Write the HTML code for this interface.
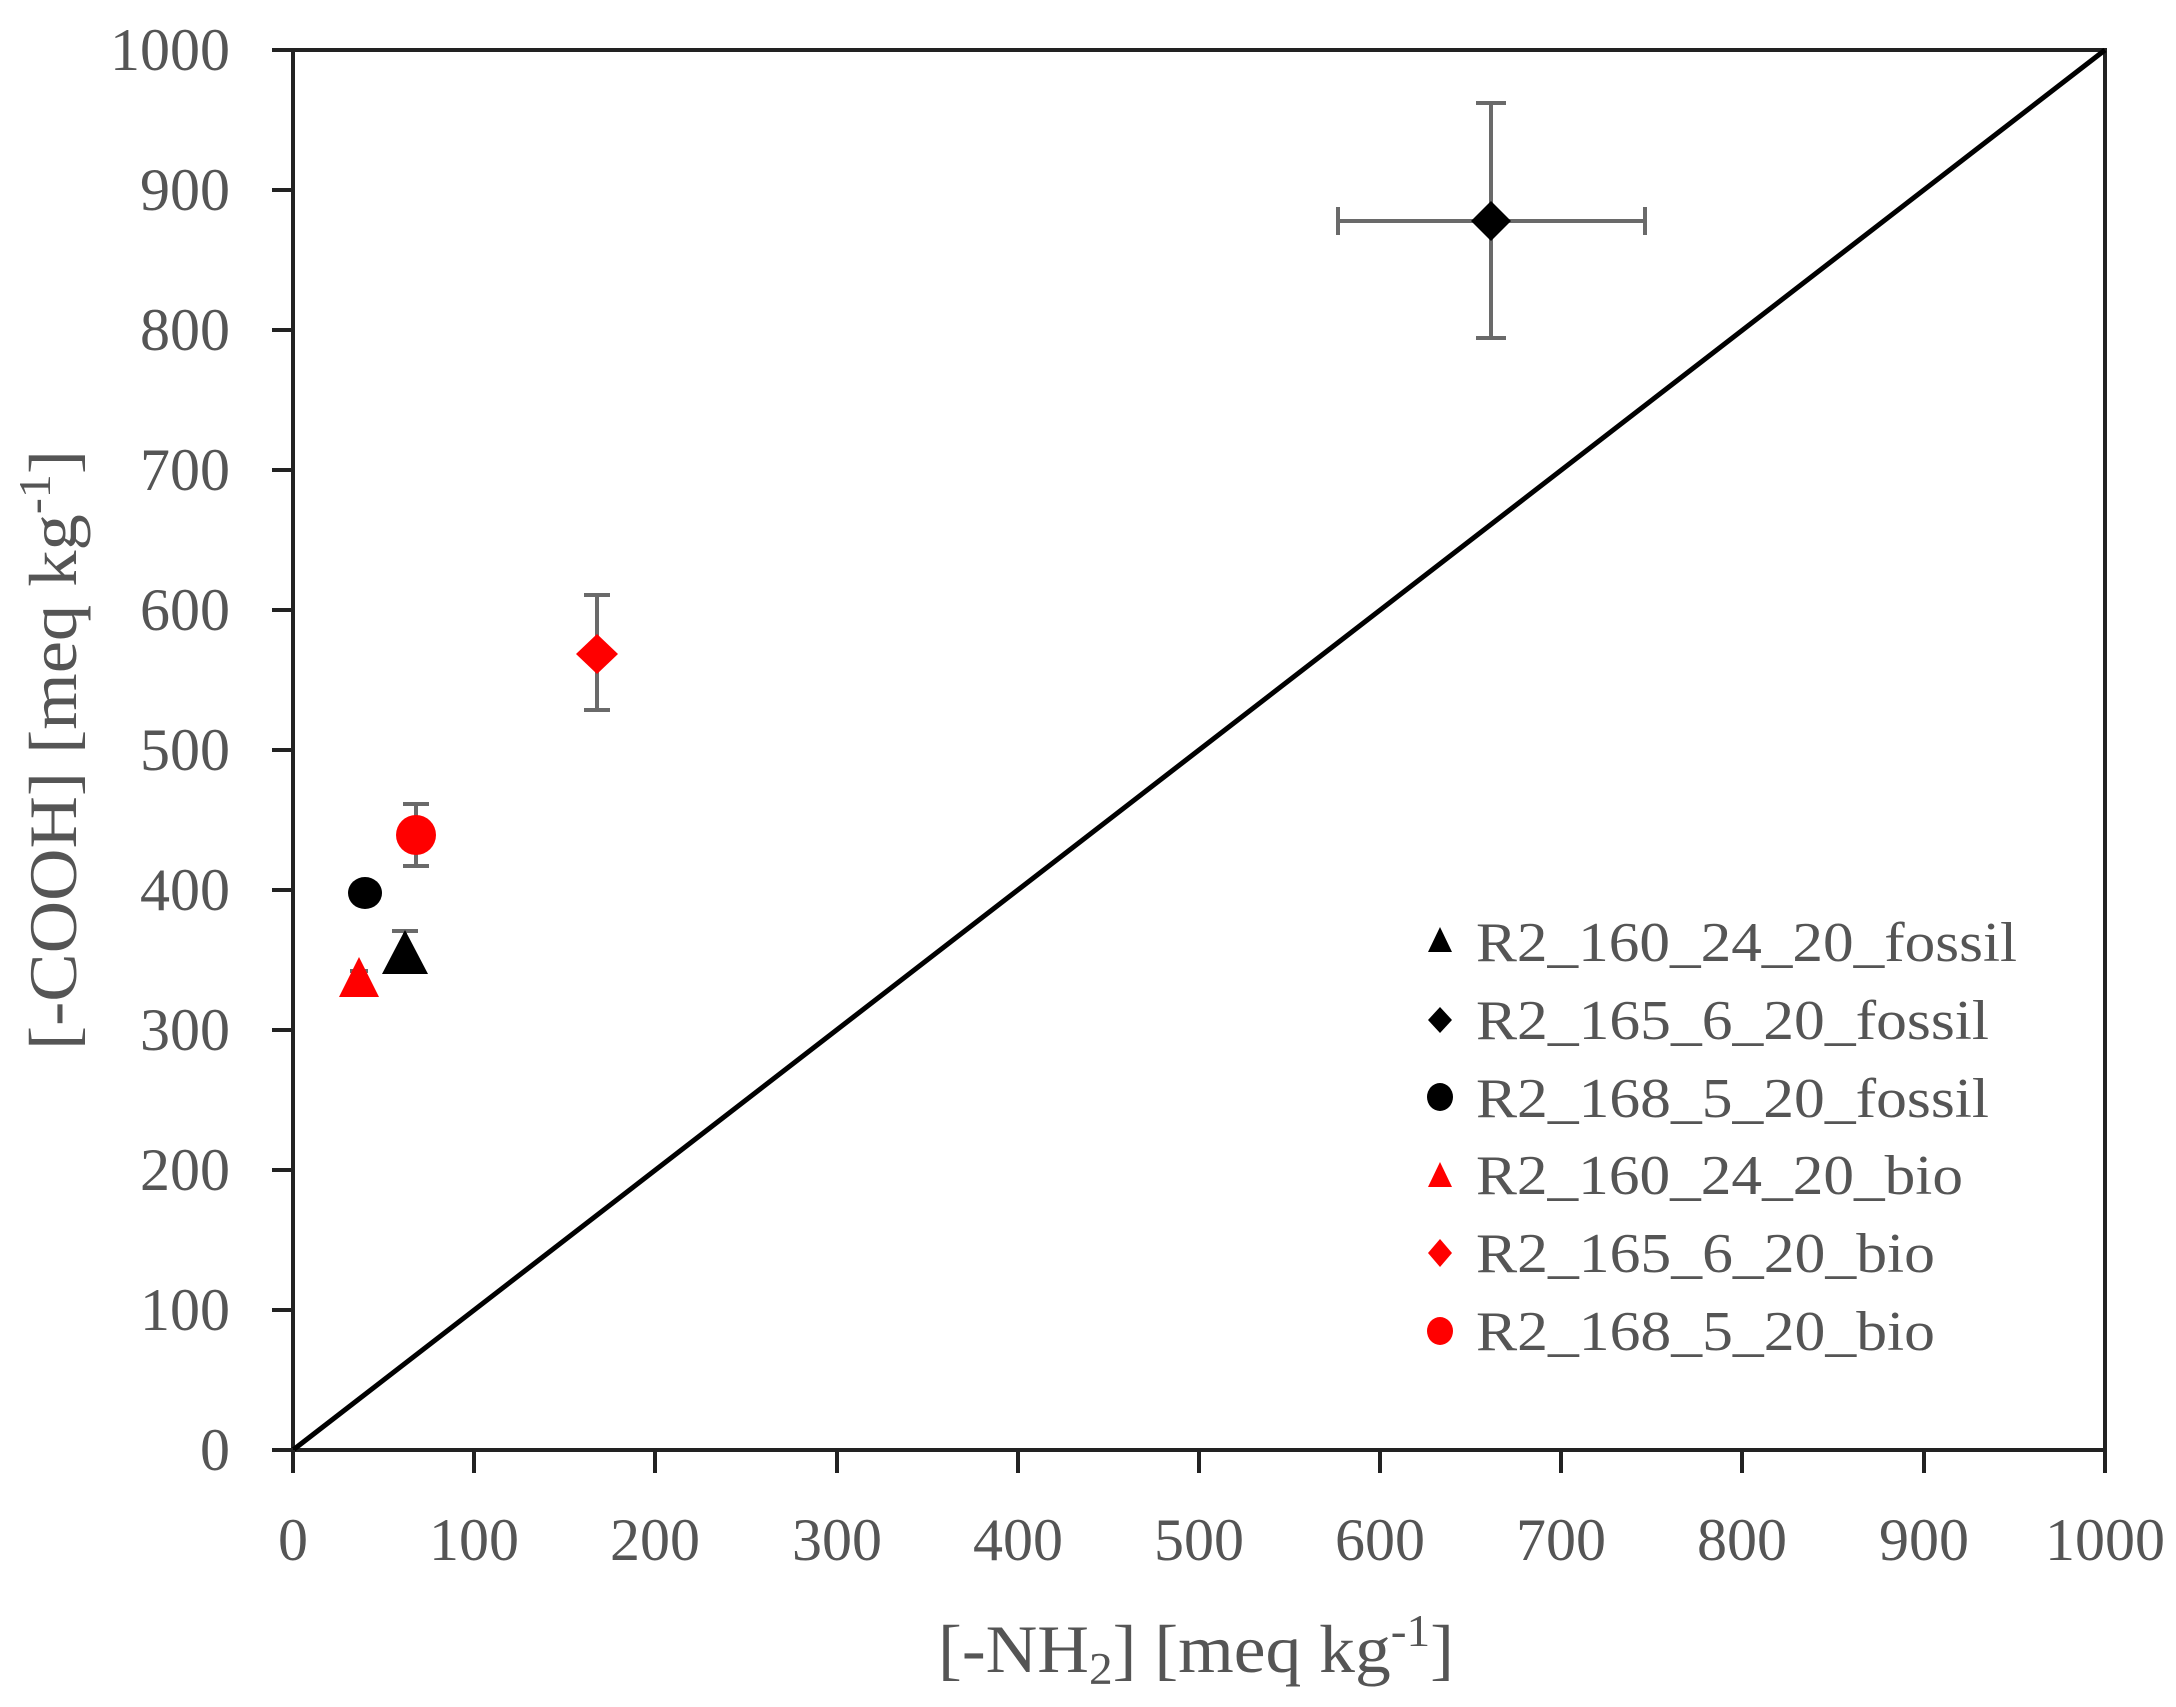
<!DOCTYPE html>
<html><head><meta charset="utf-8"><style>
html,body{margin:0;padding:0;background:#fff;}
svg{display:block;}
text{font-family:"Liberation Serif",serif;fill:#555;}
</style></head><body>
<svg width="2176" height="1707" viewBox="0 0 2176 1707" xmlns="http://www.w3.org/2000/svg">
<g stroke="#222" stroke-width="4" fill="none">
<rect x="293" y="50" width="1812" height="1400"/>
<line x1="293" y1="1450" x2="2105" y2="50" stroke="#000" stroke-width="5"/>
</g>
<g stroke="#222" stroke-width="4">
<line x1="272" y1="50" x2="293" y2="50"/><line x1="272" y1="190" x2="293" y2="190"/>
<line x1="272" y1="330" x2="293" y2="330"/><line x1="272" y1="470" x2="293" y2="470"/>
<line x1="272" y1="610" x2="293" y2="610"/><line x1="272" y1="750" x2="293" y2="750"/>
<line x1="272" y1="890" x2="293" y2="890"/><line x1="272" y1="1030" x2="293" y2="1030"/>
<line x1="272" y1="1170" x2="293" y2="1170"/><line x1="272" y1="1310" x2="293" y2="1310"/>
<line x1="272" y1="1450" x2="293" y2="1450"/>
<line x1="293" y1="1450" x2="293" y2="1473"/><line x1="474" y1="1450" x2="474" y2="1473"/>
<line x1="655" y1="1450" x2="655" y2="1473"/><line x1="837" y1="1450" x2="837" y2="1473"/>
<line x1="1018" y1="1450" x2="1018" y2="1473"/><line x1="1199" y1="1450" x2="1199" y2="1473"/>
<line x1="1380" y1="1450" x2="1380" y2="1473"/><line x1="1561" y1="1450" x2="1561" y2="1473"/>
<line x1="1742" y1="1450" x2="1742" y2="1473"/><line x1="1924" y1="1450" x2="1924" y2="1473"/>
<line x1="2105" y1="1450" x2="2105" y2="1473"/>
</g>
<g font-size="60" text-anchor="end">
<text x="230" y="70">1000</text><text x="230" y="210">900</text><text x="230" y="350">800</text>
<text x="230" y="490">700</text><text x="230" y="630">600</text><text x="230" y="770">500</text>
<text x="230" y="910">400</text><text x="230" y="1050">300</text><text x="230" y="1190">200</text>
<text x="230" y="1330">100</text><text x="230" y="1470">0</text>
</g>
<g font-size="60" text-anchor="middle">
<text x="293" y="1560">0</text><text x="474" y="1560">100</text><text x="655" y="1560">200</text>
<text x="837" y="1560">300</text><text x="1018" y="1560">400</text><text x="1199" y="1560">500</text>
<text x="1380" y="1560">600</text><text x="1561" y="1560">700</text><text x="1742" y="1560">800</text>
<text x="1924" y="1560">900</text><text x="2105" y="1560">1000</text>
</g>
<text x="1196" y="1672" font-size="68" text-anchor="middle" textLength="516" lengthAdjust="spacingAndGlyphs">[-NH<tspan font-size="45" dy="12">2</tspan><tspan dy="-12">] [meq kg</tspan><tspan font-size="45" dy="-26">-1</tspan><tspan dy="26">]</tspan></text>
<text transform="translate(76,750) rotate(-90)" font-size="68" text-anchor="middle" textLength="600" lengthAdjust="spacingAndGlyphs">[-COOH] [meq kg<tspan font-size="45" dy="-26">-1</tspan><tspan dy="26">]</tspan></text>
<!-- error bars -->
<g stroke="#6a6a6a" stroke-width="4">
<line x1="1491" y1="103" x2="1491" y2="338"/><line x1="1476" y1="103" x2="1506" y2="103"/><line x1="1476" y1="338" x2="1506" y2="338"/>
<line x1="1338" y1="221" x2="1645" y2="221"/><line x1="1338" y1="207" x2="1338" y2="235"/><line x1="1645" y1="207" x2="1645" y2="235"/>
<line x1="597" y1="595" x2="597" y2="710"/><line x1="584" y1="595" x2="610" y2="595"/><line x1="584" y1="710" x2="610" y2="710"/>
<line x1="416" y1="804" x2="416" y2="866"/><line x1="403" y1="804" x2="429" y2="804"/><line x1="403" y1="866" x2="429" y2="866"/>
<line x1="405" y1="931" x2="405" y2="955"/><line x1="392" y1="931" x2="418" y2="931"/>
<line x1="359" y1="971" x2="359" y2="980"/><line x1="350" y1="971" x2="368" y2="971"/>
</g>
<!-- markers -->
<polygon points="1491,201 1511,221 1491,241 1471,221" fill="#000"/>
<polygon points="597,634 618,654 597,674 576,654" fill="#f00"/>
<circle cx="416" cy="835" r="20" fill="#f00"/>
<ellipse cx="365" cy="893" rx="17" ry="16" fill="#000"/>
<polygon points="405,930 428,974 382,974" fill="#000"/>
<polygon points="359,957 379,997 339,997" fill="#f00"/>
<!-- legend -->
<polygon points="1440,927 1452,952 1428,952" fill="#000"/>
<polygon points="1440,1007 1452,1020 1440,1033 1428,1020" fill="#000"/>
<ellipse cx="1440" cy="1097" rx="13" ry="14" fill="#000"/>
<polygon points="1440,1162 1452,1187 1428,1187" fill="#f00"/>
<polygon points="1440,1239 1452,1253 1440,1267 1428,1253" fill="#f00"/>
<ellipse cx="1440" cy="1331" rx="13" ry="14" fill="#f00"/>
<g font-size="56">
<text x="1476" y="961" textLength="541" lengthAdjust="spacingAndGlyphs">R2_160_24_20_fossil</text>
<text x="1476" y="1039" textLength="513" lengthAdjust="spacingAndGlyphs">R2_165_6_20_fossil</text>
<text x="1476" y="1117" textLength="513" lengthAdjust="spacingAndGlyphs">R2_168_5_20_fossil</text>
<text x="1476" y="1194" textLength="487" lengthAdjust="spacingAndGlyphs">R2_160_24_20_bio</text>
<text x="1476" y="1272" textLength="459" lengthAdjust="spacingAndGlyphs">R2_165_6_20_bio</text>
<text x="1476" y="1350" textLength="459" lengthAdjust="spacingAndGlyphs">R2_168_5_20_bio</text>
</g>
</svg>
</body></html>
